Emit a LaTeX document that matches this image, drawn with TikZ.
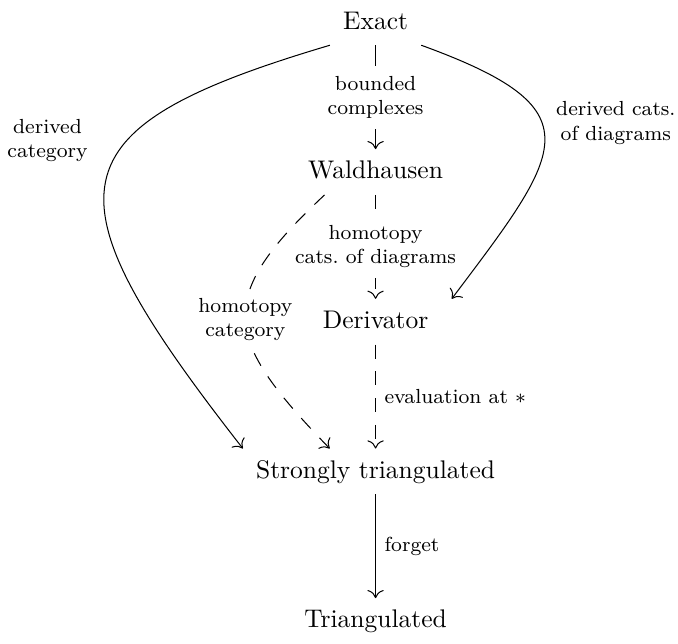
\documentclass[tikz,border=0pt]{standalone}
\usepackage{amsmath}
\usetikzlibrary{positioning,arrows.meta}

\begin{document}
\begin{tikzpicture}[>={To[length=3.2pt,width=6.4pt]}, node distance=58.7pt, on grid,
                    obj/.style={inner sep=5pt, text height=1.5ex, text depth=0.25ex},
                    lbl/.style={font=\footnotesize, align=center},
                    cut/.style={lbl, fill=white, inner sep=4pt},
                    dashy/.style={dash pattern=on 5.5pt off 5pt}]
\node[obj, anchor=base] (ex) at (0,0) {Exact};
\node[obj, below=of ex] (wal) {Waldhausen};
\node[obj, below=of wal] (der) {Derivator};
\node[obj, below=of der] (st) {Strongly triangulated};
\node[obj, below=of st] (tri) {Triangulated};
\useasboundingbox (-147.3pt,8pt) rectangle (118.6pt,-241pt);
% straight arrows down the middle
\draw[->] (ex) -- node[cut] {bounded\\complexes} (wal);
\draw[->, dashy] (wal) -- node[cut] {homotopy\\cats.\ of diagrams} (der);
\draw[->, dashy] (der) -- node[lbl, right] {evaluation at $*$} (st);
\draw[->] (st) -- node[lbl, right] {forget} (tri);
% curved arrows
\draw[->] (ex.south west) .. controls +(196.5:115pt) and +(128:128pt) ..
  node[lbl, pos=0.37, left=12pt] {derived\\category} (st.north west);
\draw[->] (ex.south east) .. controls +(340:73.5pt) and +(53:73.5pt) ..
  node[lbl, pos=0.42, right=2pt] {derived cats.\\of diagrams} ([xshift=4pt]der.north east);
\draw[->, dashy] ([xshift=-20pt]wal.south) .. controls +(223:60pt) and +(134:60pt) ..
  node[cut, inner sep=3pt, pos=0.5] {homotopy\\category} ([xshift=-18pt]st.north);
\end{tikzpicture}
\end{document}
